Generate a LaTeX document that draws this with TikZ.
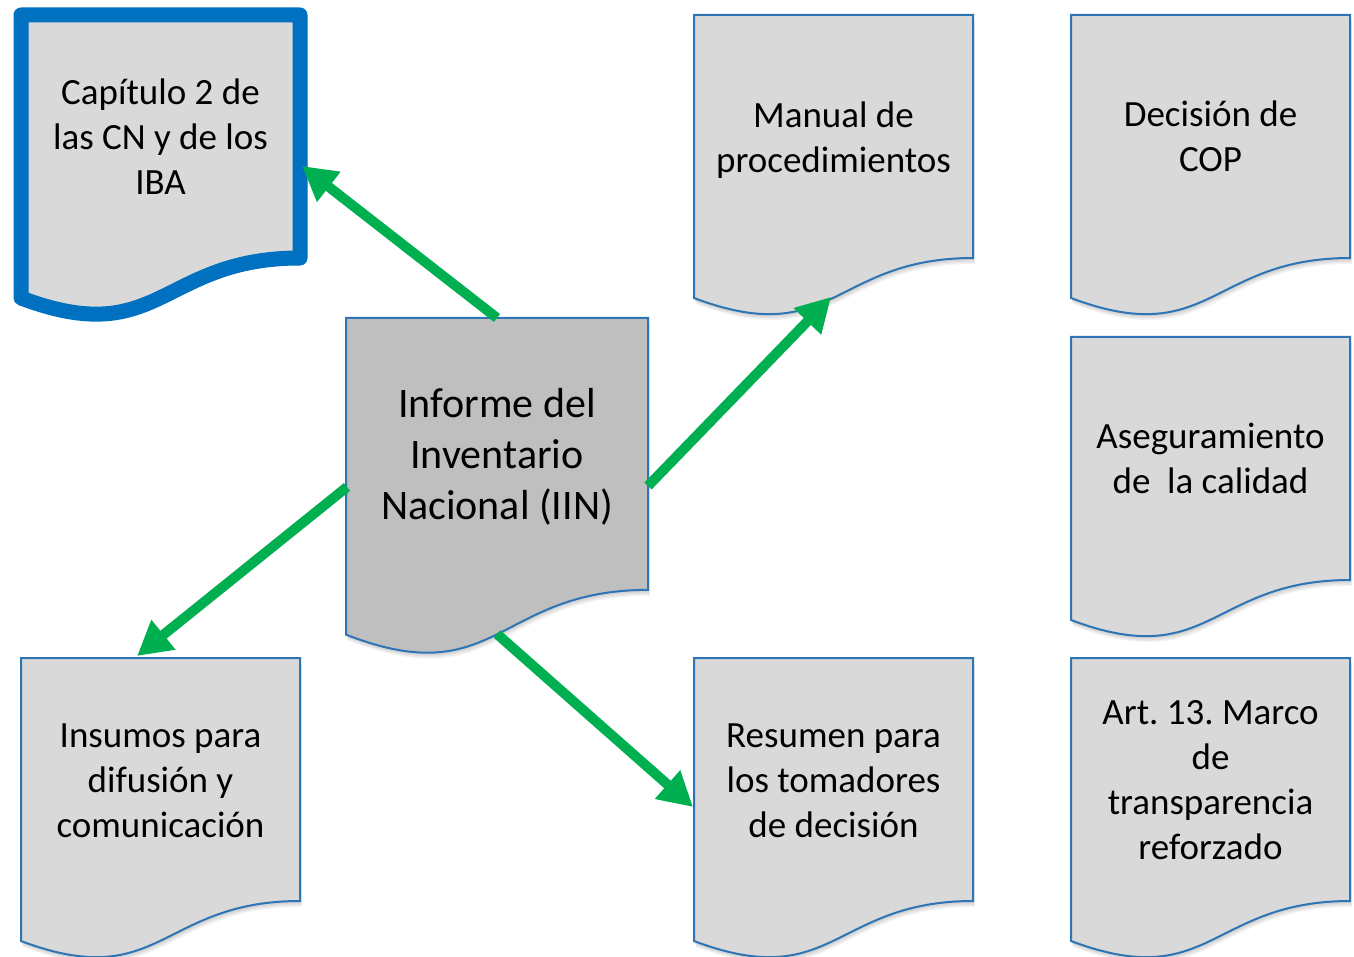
\documentclass[tikz,border=0pt]{standalone}
\usepackage{fontspec}
\setmainfont{Carlito}
\usetikzlibrary{arrows.meta}
\frenchspacing
\definecolor{boxfill}{RGB}{217,217,217}
\definecolor{midfill}{RGB}{191,191,191}
\definecolor{thinblue}{RGB}{46,117,182}
\definecolor{thickblue}{RGB}{0,112,192}
\definecolor{arrgreen}{RGB}{0,176,80}
\newcommand\mydoc[4]{(#1,#2) -- ({#1+#3},#2) -- ({#1+#3},{#2+0.802*#4}) .. controls ({#1+0.5*#3},{#2+0.802*#4}) and ({#1+0.5*#3},{#2+1.1075*#4}) .. (#1,{#2+0.934*#4}) -- cycle}
\newcommand\mydocshadow[4]{\foreach \s in {1,...,5}{\fill[black,opacity=0.045,shift={(0.4*\s,1.2*\s)}] \mydoc{#1}{#2}{#3}{#4};}}
\begin{document}
\begin{tikzpicture}[x=1pt,y=-1pt,
  docbox/.style={fill=boxfill, draw=thinblue, line width=2pt},
  midbox/.style={fill=midfill, draw=thinblue, line width=2pt},
  thickbox/.style={fill=boxfill, draw=thickblue, line width=15pt, line join=round},
  txt/.style={align=center, text=black, font=\fontsize{37}{45}\selectfont\frenchspacing, inner sep=0pt},
  bigtxt/.style={align=center, text=black, font=\fontsize{42}{51}\selectfont, inner sep=0pt},
  arr/.style={draw=arrgreen, line width=10pt, -{Triangle[length=34pt,width=36pt]}, fill=arrgreen}]
\useasboundingbox (0,0) rectangle (1354,957);

% shadows
\mydocshadow{21}{15}{279}{303}
\mydocshadow{694}{15}{279}{303}
\mydocshadow{1071}{15}{279}{303}
\mydocshadow{346}{318}{302}{339}
\mydocshadow{1071}{337}{279}{303}
\mydocshadow{21}{658}{279}{303}
\mydocshadow{694}{658}{279}{303}
\mydocshadow{1071}{658}{279}{303}

% shapes
\path[thickbox] \mydoc{21}{15}{279}{303};
\path[docbox] \mydoc{694}{15}{279}{303};
\path[docbox] \mydoc{1071}{15}{279}{303};
\path[midbox] \mydoc{346}{318}{302}{339};
\path[docbox] \mydoc{1071}{337}{279}{303};
\path[docbox] \mydoc{21}{658}{279}{303};
\path[docbox] \mydoc{694}{658}{279}{303};
\path[docbox] \mydoc{1071}{658}{279}{303};

% texts
\node[txt] (cap) at (160.5,136.5) {Capítulo 2 de\\las CN y de los\\IBA};
\node[txt] (man) at (833.5,140.5) {Manual de\\procedimientos};
\node[txt] (dec) at (1210.5,136.5) {Decisión de\\COP};
\node[bigtxt] (iin) at (497,457) {Informe del\\Inventario\\Nacional (IIN)};
\node[txt] (ase) at (1210.5,458.5) {Aseguramiento\\de\ \ la calidad};
\node[txt] (ins) at (160.5,780.5) {Insumos para\\difusión y\\comunicación};
\node[txt] (res) at (833.5,780.5) {Resumen para\\los tomadores\\de decisión};
\node[txt] (art) at (1210.5,780.5) {Art. 13. Marco\\de\\transparencia\\reforzado};

% connector anchors
\coordinate (iin-n) at (497,318);
\coordinate (iin-e) at (648,486);
\coordinate (iin-w) at (347,487);
\coordinate (iin-s) at (497,634);
\coordinate (cap-e) at (302,166);
\coordinate (man-s) at (831,297);
\coordinate (ins-n) at (137,656);
\coordinate (res-w) at (693,807);

\draw[arr] (iin-n) -- (cap-e);
\draw[arr] (iin-e) -- (man-s);
\draw[arr] (iin-w) -- (ins-n);
\draw[arr] (iin-s) -- (res-w);
\end{tikzpicture}
\end{document}
